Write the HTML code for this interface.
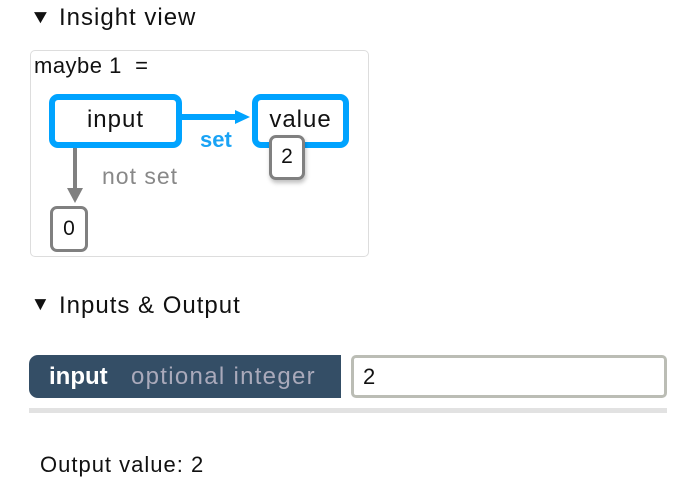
<!DOCTYPE html>
<html><head><meta charset="utf-8"><style>
*{margin:0;padding:0;box-sizing:border-box}
body{width:678px;height:487px;background:#fff;position:relative;font-family:"Liberation Sans",sans-serif;color:#111;overflow:hidden}
.a{position:absolute;white-space:nowrap}
.bb{position:absolute;border:6px solid #00a3ff;border-radius:9px;background:#fff;font-size:24px;letter-spacing:1px;text-align:center;line-height:40px}
.gb{position:absolute;border:3.5px solid #808080;border-radius:7px;background:#fff;font-size:21px;text-align:center}
</style></head><body>
<div class="a" style="left:31px;top:7px;font-size:19px;transform:scaleX(1.15)">▼</div>
<div class="a" style="left:59px;top:4px;font-size:24px;letter-spacing:1px">Insight view</div>
<div class="a" style="left:30px;top:50px;width:339px;height:207px;border:1.5px solid #ddd;border-radius:5px"></div>
<div class="a" style="left:34px;top:53px;font-size:22px;letter-spacing:0.5px">maybe 1&nbsp;&nbsp;=</div>

<div class="bb" style="left:49px;top:94px;width:133px;height:54px">input</div>
<div class="a" style="left:182px;top:114px;width:54px;height:6px;background:#00a3ff"></div>
<div class="a" style="left:235px;top:110px;width:0;height:0;border-top:7px solid transparent;border-bottom:7px solid transparent;border-left:15px solid #00a3ff"></div>
<div class="a" style="left:200px;top:127px;font-size:22px;font-weight:bold;color:#1aa3f5">set</div>
<div class="bb" style="left:252px;top:94px;width:97px;height:54px">value</div>
<div class="gb" style="left:269px;top:135px;width:36px;height:45px;line-height:38px;box-shadow:1px 3px 4px rgba(0,0,0,.25)">2</div>

<div class="a" style="left:73px;top:148px;width:4px;height:42px;background:#808080"></div>
<div class="a" style="left:67px;top:188px;width:0;height:0;border-left:8px solid transparent;border-right:8px solid transparent;border-top:15px solid #808080"></div>
<div class="a" style="left:102px;top:163px;font-size:23px;letter-spacing:1px;color:#888">not set</div>
<div class="gb" style="left:50px;top:206px;width:38px;height:46px;line-height:39px">0</div>

<div class="a" style="left:31px;top:294px;font-size:19px;transform:scaleX(1.05)">▼</div>
<div class="a" style="left:59px;top:292px;font-size:24px;letter-spacing:1px">Inputs &amp; Output</div>

<div class="a" style="left:29px;top:355px;width:312px;height:43px;background:#344e66;border-radius:9px 0 0 9px"></div>
<div class="a" style="left:49px;top:363px;font-size:24px;font-weight:bold;color:#fff">input</div>
<div class="a" style="left:131px;top:363px;font-size:24px;letter-spacing:1.3px;color:#aab">optional integer</div>
<div class="a" style="left:351px;top:355px;width:316px;height:43px;border:3px solid #bbbdb5;border-radius:5px;background:#fff"></div>
<div class="a" style="left:363px;top:364px;font-size:22px">2</div>
<div class="a" style="left:29px;top:408px;width:638px;height:5px;background:#e2e2e2"></div>
<div class="a" style="left:40px;top:452px;font-size:22px;letter-spacing:1px">Output value: 2</div>
</body></html>
